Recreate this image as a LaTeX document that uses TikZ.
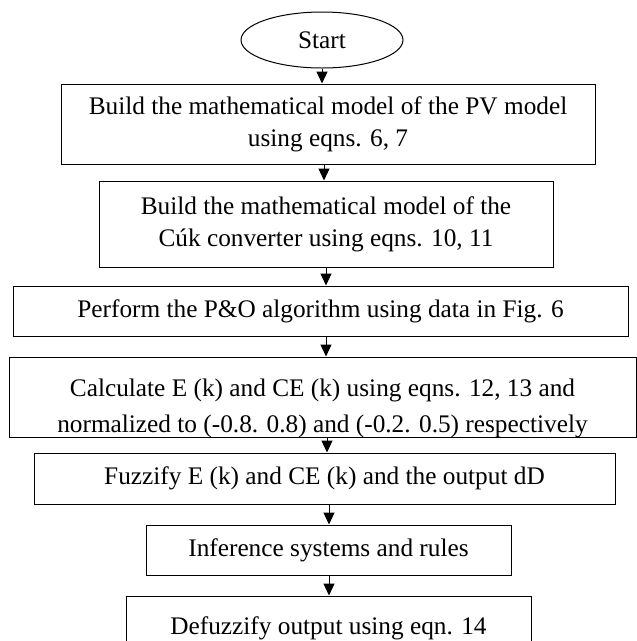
\documentclass[tikz,border=0pt]{standalone}
\usepackage{fontspec}
\setmainfont{Liberation Serif}
\usetikzlibrary{arrows.meta,shapes.geometric}
\begin{document}
\begin{tikzpicture}[x=1pt,y=-1pt,
    box/.style={draw,line width=1pt,rectangle,inner sep=0pt,align=center,
      font=\fontsize{25.3}{32}\selectfont},
    flow/.style={-{Triangle[length=12pt,width=11pt]},line width=1pt}]
    \useasboundingbox (0,0) rectangle (637,641);
    \node[box,ellipse,minimum width=162pt,minimum height=56pt] (start) at (322,40) {Start};
    \node[box,minimum width=534pt,minimum height=80pt] (pvmodel) at (328,124)
        {Build the mathematical model of the PV model\\using eqns. 6, 7};
    \node[box,minimum width=454pt,minimum height=86pt] (cuk) at (326,224)
        {Build the mathematical model of the\\Cúk converter using eqns. 10, 11};
    \node[box,minimum width=615pt,minimum height=50pt] (po) at (320.5,311)
        {Perform the P\&O algorithm using data in Fig. 6};
    % second line runs out of the box and is cut by its border
    \node[box,minimum width=627pt,minimum height=80pt,
        path picture={\node[font=\fontsize{25.3}{36}\selectfont,align=center,inner sep=0pt]
            (calctext) at ([yshift=-11pt]path picture bounding box.center)
            {Calculate E (k) and CE (k) using eqns. 12, 13 and\\normalized to (-0.8. 0.8) and (-0.2. 0.5) respectively};}]
        (calc) at (322.5,397) {};
    \node[box,minimum width=581pt,minimum height=51pt] (fuzz) at (324.5,478.5)
        {Fuzzify E (k) and CE (k) and the output dD};
    \node[box,minimum width=365pt,minimum height=50pt] (rules) at (328.5,550)
        {Inference systems and rules};
    \node[box,minimum width=405pt,minimum height=64pt] (defuzz) at (328.5,628)
        {Defuzzify output using eqn. 14};

    \draw[flow] (start.south) -- (start.south |- pvmodel.north);
    \draw[flow] (324,164) coordinate (a1) -- (a1 |- cuk.north);
    \draw[flow] (326,267) coordinate (a2) -- (a2 |- po.north);
    \draw[flow] (326,336) coordinate (a3) -- (a3 |- calc.north);
    \draw[flow] (327,437) coordinate (a4) -- (a4 |- fuzz.north);
    \draw[flow] (329,504) coordinate (a5) -- (a5 |- rules.north);
    \draw[flow] (329,575) coordinate (a6) -- (a6 |- defuzz.north);
\end{tikzpicture}
\end{document}
